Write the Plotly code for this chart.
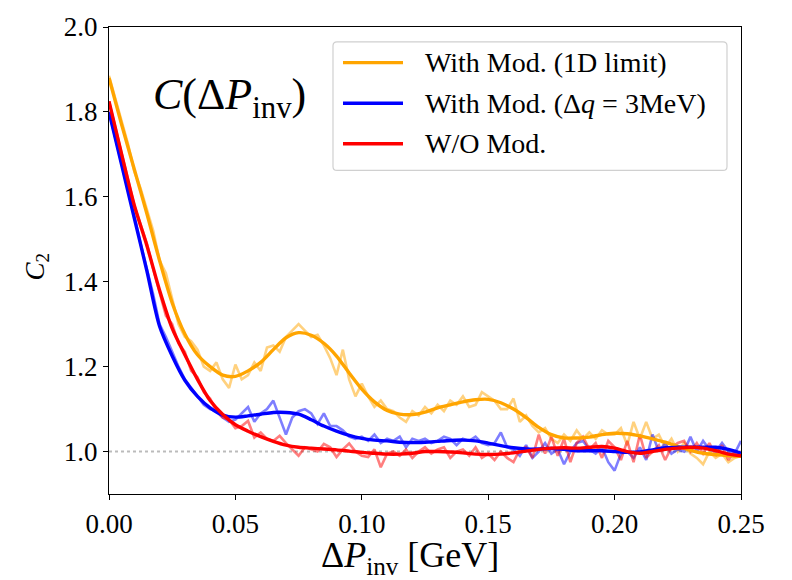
import numpy as np
import plotly.graph_objects as go

# ---- data ---------------------------------------------------------------
# raw correlation function, bins of 2.5 MeV from 0 to 0.25 GeV
dp_raw = np.linspace(0.0, 0.25, 101)

c2_1d_raw = [1.885, 1.83, 1.775, 1.725, 1.66, 1.62, 1.57, 1.52, 1.45, 1.42,
             1.36, 1.30, 1.27, 1.26, 1.24, 1.20, 1.19, 1.21, 1.17, 1.15,
             1.205, 1.17, 1.18, 1.21, 1.19, 1.245, 1.25, 1.235, 1.27, 1.285,
             1.30, 1.285, 1.27, 1.275, 1.25, 1.22, 1.18, 1.24, 1.17, 1.13,
             1.16, 1.13, 1.105, 1.12, 1.10, 1.095, 1.08, 1.07, 1.095, 1.085,
             1.105, 1.09, 1.11, 1.095, 1.12, 1.11, 1.13, 1.105, 1.11, 1.14,
             1.13, 1.12, 1.10, 1.10, 1.125, 1.07, 1.085, 1.06, 1.045, 1.055,
             1.03, 1.02, 1.04, 1.025, 1.05, 1.03, 1.045, 1.03, 1.05, 1.04,
             1.04, 1.055, 1.015, 1.07, 1.03, 1.07, 1.03, 1.04, 1.01, 1.03,
             1.0, 1.02, 0.995, 0.985, 0.97, 1.0, 0.985, 0.995, 0.975, 0.985,
             0.99]

c2_dq_raw = [1.80, 1.74, 1.675, 1.62, 1.555, 1.49, 1.43, 1.37, 1.30, 1.27,
             1.235, 1.20, 1.17, 1.15, 1.13, 1.11, 1.10, 1.095, 1.08, 1.07,
             1.075, 1.09, 1.105, 1.07, 1.09, 1.10, 1.12, 1.08, 1.04, 1.08,
             1.095, 1.10, 1.09, 1.065, 1.09, 1.06, 1.06, 1.05, 1.035, 1.03,
             1.035, 1.025, 1.04, 1.02, 1.03, 1.025, 1.035, 1.01, 1.03, 1.025,
             1.03, 1.02, 1.025, 1.035, 1.03, 1.015, 1.03, 1.025, 1.035, 1.02,
             1.015, 1.02, 1.045, 1.01, 1.005, 0.99, 1.015, 0.985, 1.0, 1.02,
             0.995, 1.005, 0.97, 1.0, 1.02, 1.025, 1.005, 0.995, 1.01, 0.975,
             0.955, 0.995, 1.0, 0.985, 1.01, 0.98, 1.04, 1.0, 1.02, 0.995,
             1.005, 1.0, 1.035, 1.0, 1.025, 1.005, 1.0, 1.02, 1.0, 0.995,
             1.025]

c2_nomod_raw = [1.825, 1.765, 1.70, 1.64, 1.58, 1.535, 1.49, 1.43, 1.375, 1.32,
                1.30, 1.255, 1.235, 1.19, 1.175, 1.14, 1.125, 1.095, 1.08, 1.075,
                1.055, 1.06, 1.072, 1.033, 1.045, 1.03, 1.025, 1.037, 1.02, 1.005,
                0.99, 1.01, 1.005, 1.0, 1.018, 1.01, 0.987, 1.005, 1.019, 1.0,
                0.99, 0.987, 1.005, 0.963, 0.995, 1.0, 0.99, 1.005, 0.985, 1.0,
                1.01, 0.995, 1.005, 1.01, 0.985, 1.0, 1.005, 0.99, 1.01, 0.985,
                0.995, 0.98, 1.0, 0.985, 0.975, 1.005, 1.01, 0.985, 1.04, 0.995,
                1.035, 0.99, 1.03, 0.975, 1.02, 1.035, 1.005, 1.02, 0.985, 1.025,
                1.01, 0.98, 1.025, 0.975, 1.04, 0.985, 1.0, 1.015, 0.98, 1.01,
                1.02, 1.025, 1.0, 1.02, 0.995, 1.02, 0.99, 1.015, 0.98, 1.0,
                0.99]

# smoothed curves, sampled every 5 MeV
dp_fit = np.linspace(0.0, 0.25, 51)

c2_1d_fit = [1.88, 1.77, 1.665, 1.56, 1.45, 1.35, 1.277, 1.228, 1.20, 1.18,
             1.177, 1.19, 1.21, 1.24, 1.268, 1.28, 1.274, 1.255, 1.225, 1.185,
             1.147, 1.117, 1.097, 1.088, 1.087, 1.093, 1.103, 1.11, 1.117, 1.122,
             1.123, 1.115, 1.10, 1.08, 1.057, 1.04, 1.032, 1.032, 1.034, 1.04,
             1.043, 1.042, 1.037, 1.03, 1.022, 1.012, 1.003, 0.996, 0.993, 0.99,
             0.989]

c2_dq_fit = [1.80, 1.675, 1.55, 1.425, 1.295, 1.225, 1.168, 1.13, 1.103, 1.086,
             1.081, 1.084, 1.088, 1.092, 1.092, 1.088, 1.075, 1.06, 1.048, 1.038,
             1.031, 1.027, 1.025, 1.022, 1.021, 1.022, 1.024, 1.026, 1.027, 1.025,
             1.02, 1.014, 1.009, 1.006, 1.006, 1.007, 1.005, 1.002, 1.002, 1.002,
             1.0, 0.998, 0.999, 1.004, 1.009, 1.01, 1.01, 1.01, 1.01, 1.005,
             0.996]

c2_nomod_fit = [1.825, 1.70, 1.58, 1.485, 1.38, 1.29, 1.228, 1.17, 1.12, 1.087,
                1.063, 1.048, 1.035, 1.024, 1.015, 1.01, 1.008, 1.006, 1.004, 1.001,
                0.998, 0.996, 0.994, 0.994, 0.996, 1.0, 1.0, 0.999, 0.997, 0.994,
                0.993, 0.994, 0.997, 1.001, 1.005, 1.008, 1.009, 1.008, 1.01, 1.012,
                1.008, 1.0, 0.996, 1.0, 1.005, 1.008, 1.01, 1.008, 1.002, 0.994,
                0.99]

baseline_x = [0.0, 0.25]
baseline_y = [1.0, 1.0]

series_names = ["With Mod. (1D limit)",
                "With Mod. (Δ<i>q</i> = 3MeV)",
                "W/O Mod."]
series_colors = ["#FFA500", "#0000FF", "#FF0000"]

x_ticks = [0.0, 0.05, 0.10, 0.15, 0.20, 0.25]
y_ticks = [1.0, 1.2, 1.4, 1.6, 1.8, 2.0]

FONT = "'Liberation Serif', 'Times New Roman', serif"

# ---- figure -------------------------------------------------------------
fig = go.Figure()

fig.add_trace(go.Scatter(x=baseline_x, y=baseline_y, mode="lines",
                         line=dict(color="#BBBBBB", width=2, dash="dot"),
                         hoverinfo="skip", showlegend=False))

raws = [c2_1d_raw, c2_dq_raw, c2_nomod_raw]
fits = [c2_1d_fit, c2_dq_fit, c2_nomod_fit]

for raw, col in zip(raws, series_colors):
    fig.add_trace(go.Scatter(x=dp_raw, y=raw, mode="lines",
                             line=dict(color=col, width=2.6), opacity=0.5,
                             showlegend=False))

for fit, col, name in zip(fits, series_colors, series_names):
    fig.add_trace(go.Scatter(x=dp_fit, y=fit, mode="lines", name=name,
                             line=dict(color=col, width=3.4, shape="spline",
                                       smoothing=0.8),
                             showlegend=False))

# ---- legend box drawn in paper coordinates ------------------------------
L_W, L_H = 632.0, 472.0  # plot area size in px
def px(x):
    return (x - 109) / L_W
def py(y):
    return (494 - y) / L_H

bx0, bx1, by0, by1 = px(333), px(727), py(167), py(37)
rx, ry = 4 / L_W, 4 / L_H
path = (f"M {bx0+rx},{by1} L {bx1-rx},{by1} Q {bx1},{by1} {bx1},{by1-ry} "
        f"L {bx1},{by0+ry} Q {bx1},{by0} {bx1-rx},{by0} "
        f"L {bx0+rx},{by0} Q {bx0},{by0} {bx0},{by0+ry} "
        f"L {bx0},{by1-ry} Q {bx0},{by1} {bx0+rx},{by1} Z")
shapes = [dict(type="path", path=path, xref="paper", yref="paper",
               line=dict(color="#D0D0D0", width=1.2),
               fillcolor="rgba(255,255,255,0.8)", layer="above")]
annotations = []
row_y = [58, 99, 140]
for name, col, yy in zip(series_names, series_colors, row_y):
    shapes.append(dict(type="line", xref="paper", yref="paper",
                       x0=px(343), x1=px(403), y0=py(yy), y1=py(yy),
                       line=dict(color=col, width=3.4), layer="above"))
    annotations.append(dict(text=name, xref="paper", yref="paper",
                            x=px(423), y=py(yy), xanchor="left",
                            yanchor="middle", showarrow=False,
                            font=dict(family=FONT, size=28, color="black")))

# in-plot title
annotations.append(dict(text="<i>C</i>(Δ<i>P</i><sub>inv</sub>)",
                        xref="paper", yref="paper", x=px(151), y=py(93),
                        xanchor="left", yanchor="middle", showarrow=False,
                        font=dict(family=FONT, size=44, color="black")))

# axis titles
annotations.append(dict(text="Δ<i>P</i><sub>inv</sub> [GeV]",
                        xref="paper", yref="paper", x=px(410), y=py(558),
                        xanchor="center", yanchor="middle", showarrow=False,
                        font=dict(family=FONT, size=36, color="black")))
annotations.append(dict(text="<i>C</i><sub>2</sub>", textangle=-90,
                        xref="paper", yref="paper", x=px(37), y=py(265),
                        xanchor="center", yanchor="middle", showarrow=False,
                        font=dict(family=FONT, size=27, color="black")))

axis_common = dict(showline=True, linecolor="black", linewidth=1.2,
                   mirror=True, ticks="outside", ticklen=5, tickwidth=1.2,
                   tickcolor="black", showgrid=False, zeroline=False,
                   tickfont=dict(family=FONT, size=27, color="black"))

fig.update_layout(
    width=792, height=580,
    margin=dict(l=109, r=51, t=22, b=86),
    paper_bgcolor="white", plot_bgcolor="white",
    showlegend=False,
    font=dict(family=FONT, color="black"),
    xaxis=dict(range=[0, 0.25], tickvals=x_ticks,
               ticktext=[f"{v:.2f}" for v in x_ticks], **axis_common),
    yaxis=dict(range=[0.9, 2.0], tickvals=y_ticks,
               ticktext=[f"{v:.1f}" for v in y_ticks], **axis_common),
    shapes=shapes, annotations=annotations,
)

fig.write_html("out.html")
